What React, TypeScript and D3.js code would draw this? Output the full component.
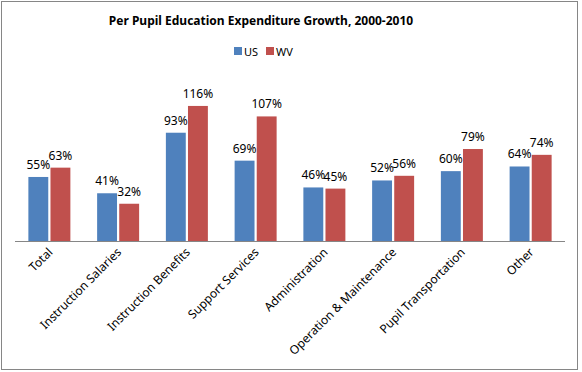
import React, { useEffect, useRef } from 'react';
import * as d3 from 'd3';

const categories = [
  'Total',
  'Instruction Salaries',
  'Instruction Benefits',
  'Support Services',
  'Administration',
  'Operation & Maintenance',
  'Pupil Transportation',
  'Other',
];
const usValues = [55, 41, 93, 69, 46, 52, 60, 64];
const wvValues = [63, 32, 116, 107, 45, 56, 79, 74];
const seriesNames = ['US', 'WV'];
const colors = ['#4F81BD', '#C0504D'];

const W = 582;
const H = 372;
const FONT = "'Noto Sans', 'Open Sans', sans-serif";

function App() {
  const ref = useRef<SVGSVGElement | null>(null);

  useEffect(() => {
    const svg = d3.select(ref.current);
    svg.selectAll('*').remove();

    const plot = { left: 15, right: 565, top: 78, bottom: 241 };

    // chart border
    svg.append('rect')
      .attr('x', 1.5).attr('y', 1.5)
      .attr('width', 576).attr('height', 368)
      .attr('fill', '#fff')
      .attr('stroke', '#868686');

    svg.append('text')
      .attr('x', 261).attr('y', 25)
      .attr('text-anchor', 'middle')
      .style('font', `bold 12px ${FONT}`)
      .text('Per Pupil Education Expenditure Growth, 2000-2010');

    // legend
    const legend = svg.append('g').attr('transform', 'translate(234,47)');
    seriesNames.forEach((s, i) => {
      const g = legend.append('g').attr('transform', `translate(${i * 32},0)`);
      g.append('rect').attr('width', 8).attr('height', 8).attr('fill', colors[i]);
      g.append('text').attr('x', 10).attr('y', 8.5)
        .style('font', `11px ${FONT}`).text(s);
    });

    const x = d3.scaleBand().domain(categories).range([plot.left, plot.right]);
    const x1 = d3.scaleBand().domain(seriesNames).range([0, 42]).paddingInner(0.1);
    const y = d3.scaleLinear().domain([0, 140]).range([plot.bottom, plot.top]);

    const rows = categories.map((c, i) => ({ c, vals: [usValues[i], wvValues[i]] }));

    const groups = svg.selectAll('g.cat')
      .data(rows)
      .enter()
      .append('g')
      .attr('class', 'cat')
      .attr('transform', d => `translate(${x(d.c)! + x.bandwidth() / 2 - 21},0)`);

    groups.selectAll('rect')
      .data(d => d.vals.map((v, i) => ({ v, s: seriesNames[i], i })))
      .enter()
      .append('rect')
      .attr('x', d => x1(d.s)!)
      .attr('y', d => y(d.v))
      .attr('width', x1.bandwidth())
      .attr('height', d => plot.bottom - y(d.v))
      .attr('fill', d => colors[d.i]);

    groups.selectAll('text.val')
      .data(d => d.vals.map((v, i) => ({ v, s: seriesNames[i] })))
      .enter()
      .append('text')
      .attr('class', 'val')
      .attr('x', d => x1(d.s)! + x1.bandwidth() / 2)
      .attr('y', d => y(d.v) - 8)
      .attr('text-anchor', 'middle')
      .style('font', `12px ${FONT}`)
      .text(d => d.v + '%');

    // axis line
    svg.append('line')
      .attr('x1', plot.left).attr('x2', plot.right)
      .attr('y1', plot.bottom + 0.5).attr('y2', plot.bottom + 0.5)
      .attr('stroke', '#868686');

    svg.selectAll('text.cat')
      .data(categories)
      .enter()
      .append('text')
      .attr('class', 'cat')
      .attr('transform', d => `translate(${x(d)! + x.bandwidth() / 2 + 4},${plot.bottom + 12}) rotate(-45)`)
      .attr('text-anchor', 'end')
      .style('font', `12px ${FONT}`)
      .text(d => d);
  }, []);

  return (
    <svg ref={ref} width={W} height={H}
      style={{ position: 'absolute', left: 0, top: 0, background: '#fff' }} />
  );
}

export default App;
